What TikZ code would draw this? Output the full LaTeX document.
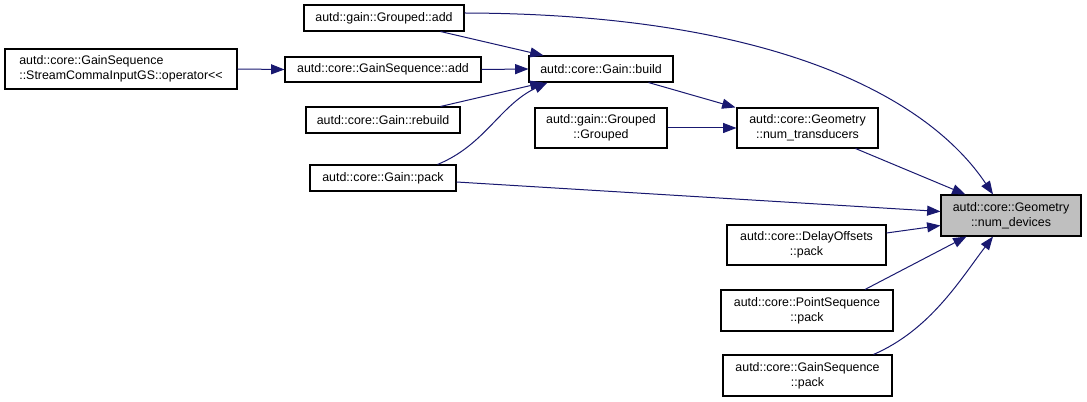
\documentclass[tikz,border=0pt]{standalone}
\usepackage{fontspec}
\setmainfont{Liberation Sans}
\usetikzlibrary{arrows.meta, positioning}
\definecolor{edgeblue}{HTML}{191970}
\definecolor{rootgray}{HTML}{BFBFBF}

\begin{document}
\begin{tikzpicture}[x=0.75pt, y=-0.75pt, >={Triangle[length=10pt, width=7.5pt]},
  fn/.style={draw=black, line width=0.8pt, fill=white, inner sep=0pt, align=center,
    font=\fontsize{9.3}{11.2}\selectfont},
  call/.style={->, draw=edgeblue, line width=0.75pt}]

\useasboundingbox (0,0) rectangle (1087,402);

% Caller boxes on the left
\node[fn, minimum width=160*0.75pt, minimum height=26*0.75pt] (GroupedAdd) at (384,18) {autd::gain::Grouped::add};
\node[fn, align=left, minimum width=232*0.75pt, minimum height=40*0.75pt] (StreamOp) at (121,69) {autd::core::GainSequence\\::StreamCommaInputGS::operator<{}<};
\node[fn, minimum width=196*0.75pt, minimum height=25*0.75pt] (GSAdd) at (383,69.5) {autd::core::GainSequence::add};
\node[fn, minimum width=154*0.75pt, minimum height=26*0.75pt] (Rebuild) at (383,120) {autd::core::Gain::rebuild};
\node[fn, minimum width=146*0.75pt, minimum height=26*0.75pt] (GainPack) at (383,178) {autd::core::Gain::pack};

% Middle column
\node[fn, minimum width=144*0.75pt, minimum height=26*0.75pt] (Build) at (601,69) {autd::core::Gain::build};
\node[fn, minimum width=132*0.75pt, minimum height=40*0.75pt] (Grouped) at (601,128) {autd::gain::Grouped\\::Grouped};
\node[fn, minimum width=141*0.75pt, minimum height=40*0.75pt] (NumTrans) at (807.5,128) {autd::core::Geometry\\::num\_transducers};

% Root and its lower callers
\node[fn, fill=rootgray, minimum width=140*0.75pt, minimum height=41*0.75pt] (NumDev) at (1011,215.5) {autd::core::Geometry\\::num\_devices};
\node[fn, minimum width=159*0.75pt, minimum height=40*0.75pt] (Delay) at (806.5,245) {autd::core::DelayOffsets\\::pack};
\node[fn, minimum width=172*0.75pt, minimum height=41*0.75pt] (PointSeq) at (807,310.5) {autd::core::PointSequence\\::pack};
\node[fn, minimum width=169*0.75pt, minimum height=41*0.75pt] (GainSeqPack) at (807.5,375.5) {autd::core::GainSequence\\::pack};

% Calls into Gain::build
\draw[call] (StreamOp.east) -- (GSAdd.west);
\draw[call] ([shift={(-24,0)}]GroupedAdd.south east) -- ([shift={(15,0)}]Build.north west);
\draw[call] (GSAdd.east) -- (Build.west);
\draw[call] ([shift={(-20,0)}]Rebuild.north east) -- ([shift={(15,0)}]Build.south west);
\draw[call] ([shift={(-19,0)}]GainPack.north east) .. controls (485,145) and (500,105) .. ([shift={(19,0)}]Build.south west);

% Calls into num_transducers
\draw[call] ([shift={(-25,0)}]Build.south east) -- ([shift={(-1,0)}]NumTrans.north west);
\draw[call] (Grouped.east) -- (NumTrans.west);

% Calls into num_devices
\draw[call] ([shift={(0,-5)}]GroupedAdd.east) .. controls (780,14) and (930,100) .. ([shift={(-18,0)}]NumDev.north);
\draw[call] ([shift={(-23,0)}]NumTrans.south east) -- ([shift={(25,0)}]NumDev.north west);
\draw[call] ([shift={(0,4)}]GainPack.east) -- ([shift={(0,-4)}]NumDev.west);
\draw[call] ([shift={(0,-12)}]Delay.east) -- ([shift={(0,10)}]NumDev.west);
\draw[call] ([shift={(58,0)}]PointSeq.north) -- ([shift={(26,0)}]NumDev.south west);
\draw[call] ([shift={(66,0)}]GainSeqPack.north) .. controls (930,330) and (960,280) .. ([shift={(-18,0)}]NumDev.south);

\end{tikzpicture}
\end{document}
